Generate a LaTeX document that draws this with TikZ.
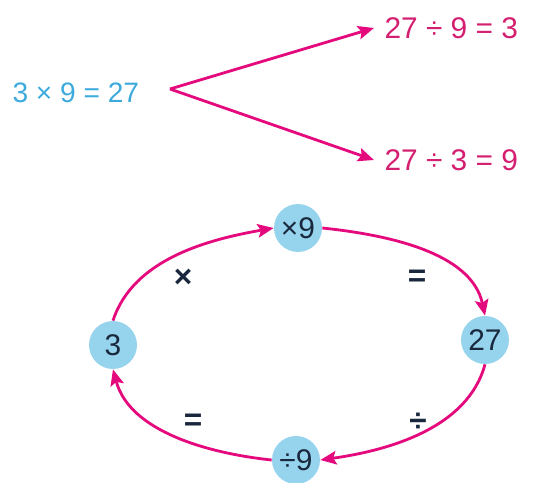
\documentclass[tikz,border=0pt]{standalone}
\usepackage{fontspec}
\setmainfont{Liberation Sans}
\usepackage{xcolor}
\usepackage{tikz}
\usetikzlibrary{arrows.meta,positioning}
\definecolor{magline}{RGB}{228,10,125}
\definecolor{magtext}{RGB}{212,30,112}
\definecolor{bluetext}{RGB}{60,170,220}
\definecolor{bubblefill}{RGB}{150,212,238}
\definecolor{ink}{RGB}{25,40,60}

\begin{document}
\begin{tikzpicture}[
  x=0.02cm,y=-0.02cm,
  eqn/.style={font=\fontsize{17}{19}\selectfont,inner sep=2pt,outer sep=4pt},
  bubble/.style={circle,fill=bubblefill,minimum size=0.96cm,inner sep=0pt,font=\fontsize{17}{19}\selectfont,text=ink},
  sign/.style={font=\bfseries\fontsize{18}{20}\selectfont,text=ink},
  arrow/.style={-{Stealth[length=0.32cm,width=0.27cm,inset=0.06cm]},line width=1.6pt,magline}
]
\useasboundingbox (0,0) rectangle (556,483);
% fact and its two divisions
\node[eqn,text=bluetext,anchor=west,font=\fontsize{16}{18}\selectfont] (mult) at (2,93) {3 × 9 = 27};
\coordinate (fork) at (170,89);
\node[eqn,text=magtext,anchor=west] (divnine) at (374,28) {27 ÷ 9 = 3};
\node[eqn,text=magtext,anchor=west] (divthree) at (374,160) {27 ÷ 3 = 9};
\draw[arrow] (fork) -- (divnine.west);
\draw[arrow] (fork) -- (divthree.west);
% the cycle
\node[bubble] (three) at (113,345) {3};
\node[bubble] (times) at (298,228) {×9};
\node[bubble] (tsv) at (485,340) {27};
\node[bubble] (divn) at (296,460) {÷9};
\draw[arrow] (three.north) to[out=72,in=190,looseness=0.9] (times.west);
\draw[arrow] (times.east) to[out=-6,in=102,looseness=0.9] (tsv.north);
\draw[arrow] (tsv.south) to[out=-105,in=8,looseness=0.9] (divn.east);
\draw[arrow] (divn.west) to[out=174,in=-75,looseness=0.9] (three.south);
\node[sign] (stimes) at (183,278) {×};
\node[sign] (seqa) at (417,278) {=};
\node[sign] (seqb) at (193,422) {=};
\node[sign] (sdiv) at (418,422) {÷};
\end{tikzpicture}
\end{document}
